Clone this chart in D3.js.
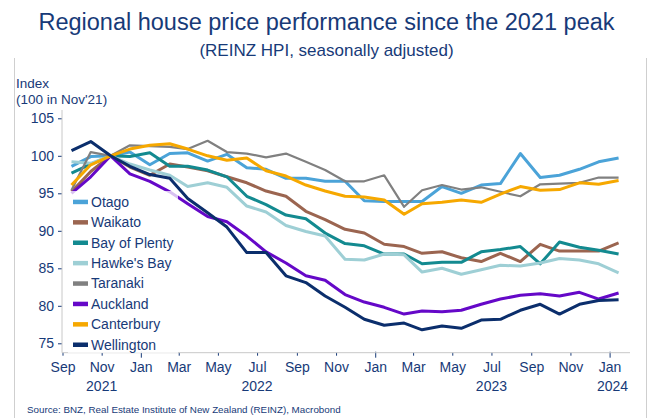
<!DOCTYPE html>
<html>
<head>
<meta charset="utf-8">
<script src="https://cdn.jsdelivr.net/npm/d3@7"></script>
<style>
  body { margin: 0; background: #fff; }
  text { font-family: "Liberation Sans", Arial, sans-serif; }
</style>
</head>
<body>
<script>
// Months (monthly data, Sep 2021 - Jan 2024)
const months = [
  '2021-09', '2021-10', '2021-11', '2021-12',
  '2022-01', '2022-02', '2022-03', '2022-04', '2022-05', '2022-06',
  '2022-07', '2022-08', '2022-09', '2022-10', '2022-11', '2022-12',
  '2023-01', '2023-02', '2023-03', '2023-04', '2023-05', '2023-06',
  '2023-07', '2023-08', '2023-09', '2023-10', '2023-11', '2023-12',
  '2024-01'
];

// Regions, in legend order
const regions = ['Otago', 'Waikato', 'Bay of Plenty', "Hawke's Bay", 'Taranaki', 'Auckland', 'Canterbury', 'Wellington'];

// Index values (100 in Nov'21)
const otago = [98.6, 99.9, 100.0, 100.5, 98.8, 100.3, 100.4, 99.3, 100.2, 98.4, 98.2, 97.0, 97.0, 96.6, 96.6, 94.0, 93.9, 93.9, 93.9, 95.9, 95.0, 96.1, 96.3, 100.3, 97.1, 97.4, 98.2, 99.2, 99.7];
const waikato = [95.2, 97.9, 100.0, 98.5, 97.4, 98.9, 98.5, 98.0, 97.2, 96.4, 95.3, 94.6, 92.6, 91.5, 90.2, 89.7, 88.2, 87.9, 87.0, 87.2, 86.4, 85.9, 87.0, 85.9, 88.2, 87.3, 87.3, 87.3, 88.4];
const bayOfPlenty = [97.7, 98.9, 100.0, 99.9, 100.4, 98.6, 98.6, 98.1, 97.2, 94.6, 93.5, 92.1, 91.6, 89.7, 88.3, 88.0, 86.9, 86.9, 85.6, 85.8, 85.8, 87.2, 87.5, 87.9, 85.6, 88.5, 87.8, 87.4, 86.9];
const hawkesBay = [99.2, 99.0, 100.0, 98.9, 98.1, 97.4, 95.9, 96.4, 95.8, 93.3, 92.5, 90.7, 89.9, 89.3, 86.2, 86.1, 86.9, 86.8, 84.5, 85.0, 84.2, 84.8, 85.4, 85.3, 85.7, 86.3, 86.1, 85.6, 84.4];
const taranaki = [95.4, 100.5, 100.0, 101.4, 101.3, 101.2, 100.9, 102.0, 100.5, 100.3, 99.8, 100.3, 99.2, 98.1, 96.6, 96.6, 97.4, 93.2, 95.4, 96.1, 95.5, 95.8, 95.2, 94.6, 96.2, 96.3, 96.4, 97.1, 97.1];
const auckland = [95.0, 97.2, 100.0, 97.6, 96.6, 95.2, 93.6, 91.9, 91.2, 89.3, 87.2, 85.7, 84.0, 83.4, 81.5, 80.5, 79.8, 78.9, 79.3, 79.2, 79.4, 80.2, 80.9, 81.4, 81.6, 81.3, 81.8, 80.9, 81.7];
const canterbury = [96.1, 98.8, 100.0, 100.9, 101.4, 101.6, 100.9, 100.0, 99.4, 99.7, 98.0, 97.3, 96.1, 95.3, 94.6, 94.5, 94.1, 92.2, 93.6, 93.8, 94.1, 93.8, 94.9, 95.9, 95.4, 95.5, 96.4, 96.2, 96.7];
const wellington = [100.7, 101.9, 100.0, 98.6, 97.5, 97.0, 94.3, 92.4, 90.5, 87.1, 87.1, 84.0, 83.1, 81.3, 79.8, 78.2, 77.4, 77.7, 76.8, 77.3, 77.0, 78.1, 78.2, 79.4, 80.2, 78.9, 80.2, 80.7, 80.8];

const seriesValues = [otago, waikato, bayOfPlenty, hawkesBay, taranaki, auckland, canterbury, wellington];

// Tick labels
const yTicks = [75, 80, 85, 90, 95, 100, 105];
const yearLabelMonths = ['2021-11', '2022-07', '2023-07', '2024-01'];
const yearLabels = ['2021', '2022', '2023', '2024'];

// Styling
const colors = ['#4ba3d8', '#9b6550', '#138a90', '#9ecfd5', '#808080', '#6508c8', '#f6a800', '#0b2e6c'];
const widths = [3, 3, 3, 3, 2.2, 3, 3, 3];
const textColor = '#173a78';

const width = 653;
const height = 418;

const parseMonth = d3.timeParse('%Y-%m');
const dates = months.map(m => d3.timeDay.offset(parseMonth(m), 14));

const svg = d3.select('body')
  .append('svg')
  .attr('width', width)
  .attr('height', height);

// Outer frame sides
svg.append('line').attr('x1', 14.5).attr('x2', 14.5).attr('y1', 58).attr('y2', height)
  .attr('stroke', '#cfcfcf');
svg.append('line').attr('x1', 646.5).attr('x2', 646.5).attr('y1', 58).attr('y2', height)
  .attr('stroke', '#cfcfcf');

// Title
svg.append('text')
  .attr('x', width / 2).attr('y', 30)
  .attr('text-anchor', 'middle')
  .style('font-size', '23.5px')
  .style('fill', textColor)
  .text('Regional house price performance since the 2021 peak');
svg.append('text')
  .attr('x', width / 2).attr('y', 56)
  .attr('text-anchor', 'middle')
  .style('font-size', '17px')
  .style('fill', textColor)
  .text('(REINZ HPI, seasonally adjusted)');

// Scales
const x = d3.scaleTime()
  .domain([new Date(2021, 8, 1), new Date(2024, 1, 1)])
  .range([62.5, 629.5]);
const y = d3.scaleLinear()
  .domain([75, 105])
  .range([343.3, 118.3]);
const plotTop = 110;
const plotBottom = 352.7;

// Y axis
const yAxis = svg.append('g')
  .attr('transform', 'translate(62,0)')
  .call(d3.axisLeft(y).tickValues(yTicks).tickSize(4).tickPadding(4));
yAxis.select('.domain').remove();
yAxis.append('line').attr('x1', 0).attr('x2', 0).attr('y1', plotTop).attr('y2', plotBottom)
  .attr('stroke', '#c8c8c8');
yAxis.selectAll('.tick line').attr('stroke', textColor);
yAxis.selectAll('.tick text')
  .style('font-size', '14px')
  .style('fill', textColor)
  .style('font-family', '"Liberation Sans", Arial, sans-serif');

svg.append('text').attr('x', 16).attr('y', 88)
  .style('font-size', '13.5px').style('fill', textColor).text('Index');
svg.append('text').attr('x', 16).attr('y', 104)
  .style('font-size', '13.5px').style('fill', textColor).text("(100 in Nov'21)");

// X axis
const xTicks = d3.timeMonth.every(2).range(new Date(2021, 8, 1), new Date(2024, 1, 1));
const xAxis = svg.append('g')
  .attr('transform', `translate(0,${plotBottom})`)
  .call(d3.axisBottom(x).tickValues(xTicks).tickFormat(d3.timeFormat('%b')).tickSize(3).tickPadding(6));
xAxis.select('.domain').remove();
xAxis.append('line').attr('x1', 62).attr('x2', 630).attr('y1', 0).attr('y2', 0)
  .attr('stroke', '#c8c8c8');
xAxis.selectAll('.tick line')
  .attr('stroke', textColor)
  .attr('y1', d => d.getMonth() === 0 ? -1 : 0)
  .attr('y2', d => d.getMonth() === 0 ? 5 : 3);
xAxis.selectAll('.tick text')
  .style('font-size', '14px')
  .style('fill', textColor)
  .style('font-family', '"Liberation Sans", Arial, sans-serif');

svg.selectAll('.year-label')
  .data(yearLabelMonths)
  .enter()
  .append('text')
  .attr('class', 'year-label')
  .attr('x', (d, i) => x(parseMonth(d)) + (i === yearLabels.length - 1 ? 3 : 0))
  .attr('y', 391)
  .attr('text-anchor', 'middle')
  .style('font-size', '14px')
  .style('fill', textColor)
  .text((d, i) => yearLabels[i]);

// Lines
const line = d3.line()
  .x((d, i) => x(dates[i]))
  .y(d => y(d));

svg.append('g')
  .selectAll('path')
  .data(seriesValues)
  .enter()
  .append('path')
  .attr('d', line)
  .attr('fill', 'none')
  .attr('stroke', (d, i) => colors[i])
  .attr('stroke-width', (d, i) => widths[i])
  .attr('stroke-linejoin', 'round');

// Legend
const legend = svg.append('g').attr('transform', 'translate(68,191)');
legend.append('rect')
  .attr('width', 110).attr('height', 162)
  .attr('fill', '#fff').attr('fill-opacity', 0.75);
const items = legend.selectAll('.item')
  .data(regions)
  .enter()
  .append('g')
  .attr('class', 'item')
  .attr('transform', (d, i) => `translate(0,${10.7 + i * 20.4})`);
items.append('rect')
  .attr('x', 5).attr('y', -2).attr('width', 15).attr('height', 4.5)
  .attr('fill', (d, i) => colors[i]);
items.append('text')
  .attr('x', 23).attr('y', 5)
  .style('font-size', '14px')
  .style('fill', textColor)
  .text(d => d);

// Source
svg.append('text')
  .attr('x', 27).attr('y', 413)
  .style('font-size', '9.8px')
  .style('fill', textColor)
  .text('Source: BNZ, Real Estate Institute of New Zealand (REINZ), Macrobond');
</script>
</body>
</html>
